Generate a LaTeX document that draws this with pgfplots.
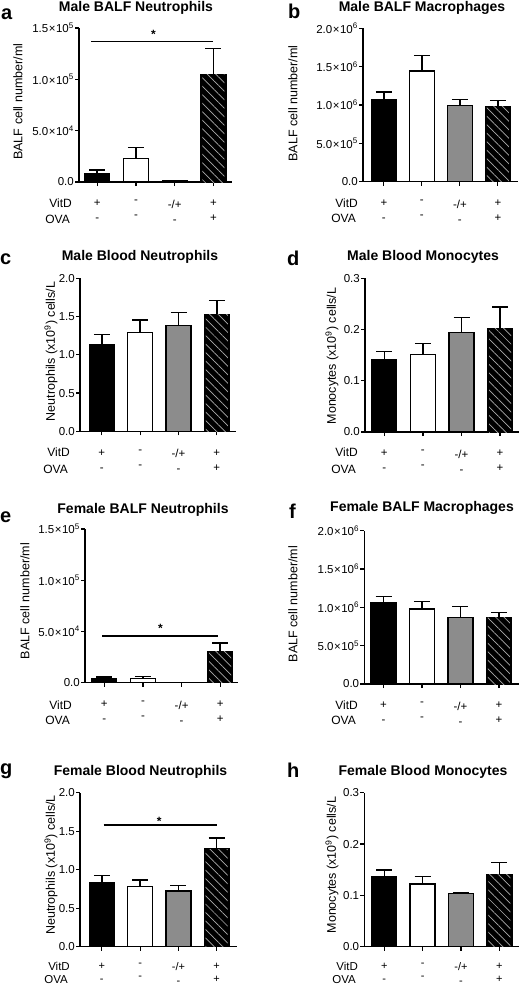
\documentclass[border=0pt]{standalone}
\usepackage{fontspec}
\setmainfont{Liberation Sans}
\usepackage{pgfplots}
\pgfplotsset{compat=1.18}
\usetikzlibrary{patterns.meta}
\definecolor{bargray}{RGB}{140,140,140}

\pgfplotsset{
  panel/.style={
    scale only axis, width=154pt, height=154pt,
    axis x line=bottom, axis y line=left,
    axis line style={-, line width=1.4pt},
    xmin=-0.52, xmax=3.5, ymin=0,
    xtick={0,1,2,3},
    xticklabels={{+\\-},{-\\-},{-/+\\-},{+\\+}},
    xticklabel style={align=center, font=\fontsize{11.5}{15}\selectfont, inner sep=0pt, anchor=north, yshift=-14pt},
    yticklabel style={font=\fontsize{11.5}{12}\selectfont, inner sep=1pt},
    tick align=outside, major tick length=4pt,
    every tick/.style={black, line width=1.2pt},
    scaled y ticks=false,
    clip=false,
  },
  lowpanel/.style={xticklabel style={font=\fontsize{11}{13.5}\selectfont, yshift=2pt}},
  bA/.style={ybar, bar width=25pt, fill=black, draw=black, line width=1.3pt},
  bB/.style={ybar, bar width=25pt, fill=white, draw=black, line width=1.3pt},
  bC/.style={ybar, bar width=25pt, fill=bargray, draw=black, line width=1.3pt},
  bD/.style={ybar, bar width=25pt, fill=black, draw=black, line width=1.3pt},
  hatch/.style={ybar, bar width=22pt, draw=none, pattern={Lines[angle=-45, distance=6pt, line width=0.7pt]}, pattern color=gray!65},
  eb/.style={error bars/.cd, y dir=plus, y explicit, error bar style={line width=1.5pt, black, solid}, error mark options={rotate=90, mark size=8pt, line width=1.5pt, black}},
}
\newcommand{\tl}{\fontsize{12.5}{14}\selectfont}
\newcommand{\rl}{\fontsize{12}{14}\selectfont}
\newcommand{\rls}{\fontsize{11.5}{13}\selectfont}
\newcommand{\ttl}{\fontsize{14}{16}\selectfont\bfseries}
\newcommand{\lett}{\fontsize{20}{22}\selectfont\bfseries}
\newcommand{\tx}{\kern0.5pt×\kern0.5pt}

\begin{document}
\begin{tikzpicture}
\useasboundingbox (0pt,0pt) rectangle (519pt,-987pt);

% ---------- titles and letters ----------
\node[anchor=base west, inner sep=0, font=\lett] at (1pt,-20pt) {a};
\node[anchor=base west, inner sep=0, font=\lett] at (288pt,-18.3pt) {b};
\node[anchor=base west, inner sep=0, font=\lett] at (0pt,-264pt) {c};
\node[anchor=base west, inner sep=0, font=\lett] at (287pt,-265.7pt) {d};
\node[anchor=base west, inner sep=0, font=\lett] at (0pt,-522pt) {e};
\node[anchor=base west, inner sep=0, font=\lett] at (289pt,-518pt) {f};
\node[anchor=base west, inner sep=0, font=\lett] at (0pt,-774pt) {g};
\node[anchor=base west, inner sep=0, font=\lett] at (287pt,-777pt) {h};

\node[anchor=base, inner sep=0, font=\ttl] at (136pt,-12pt) {Male BALF Neutrophils};
\node[anchor=base, inner sep=0, font=\ttl] at (422pt,-11.5pt) {Male BALF Macrophages};
\node[anchor=base, inner sep=0, font=\ttl] at (140pt,-260pt) {Male Blood Neutrophils};
\node[anchor=base, inner sep=0, font=\ttl] at (423pt,-260.5pt) {Male Blood Monocytes};
\node[anchor=base, inner sep=0, font=\ttl] at (143pt,-513pt) {Female BALF Neutrophils};
\node[anchor=base, inner sep=0, font=\ttl] at (422pt,-511pt) {Female BALF Macrophages};
\node[anchor=base, inner sep=0, font=\ttl] at (140.5pt,-775pt) {Female Blood Neutrophils};
\node[anchor=base, inner sep=0, font=\ttl] at (423pt,-775pt) {Female Blood Monocytes};

% ---------- y labels ----------
\node[rotate=90, font=\tl, inner sep=0] at (18pt,-101.7pt) {BALF cell number/ml};
\node[rotate=90, font=\tl, inner sep=0] at (293pt,-103.6pt) {BALF cell number/ml};
\node[rotate=90, font=\tl, inner sep=0] at (51pt,-351.5pt) {Neutrophils (x10\textsuperscript{9}) cells/L};
\node[rotate=90, font=\tl, inner sep=0] at (332pt,-356pt) {Monocytes (x10\textsuperscript{9}) cells/L};
\node[rotate=90, font=\tl, inner sep=0] at (25pt,-601pt) {BALF cell number/ml};
\node[rotate=90, font=\tl, inner sep=0] at (293pt,-604pt) {BALF cell number/ml};
\node[rotate=90, font=\tl, inner sep=0] at (51pt,-865pt) {Neutrophils (x10\textsuperscript{9}) cells/L};
\node[rotate=90, font=\tl, inner sep=0] at (332pt,-865pt) {Monocytes (x10\textsuperscript{9}) cells/L};

% ---------- row labels ----------
\foreach \xx/\yy in {72/203, 358/202.7, 70/452, 358/452, 72/705, 358/705}{
  \node[anchor=east, font=\rl, inner sep=0] at (\xx pt,-\yy pt) {VitD};
}
\foreach \xx/\yy in {70/219, 356/218, 68/469, 356/469, 70/720, 356/720}{
  \node[anchor=east, font=\rl, inner sep=0] at (\xx pt,-\yy pt) {OVA};
}
\foreach \xx/\yy in {70/966.5, 358/966.5}{
  \node[anchor=east, font=\rls, inner sep=0] at (\xx pt,-\yy pt) {VitD};
}
\foreach \xx/\yy in {68/979.5, 356/979.5}{
  \node[anchor=east, font=\rls, inner sep=0] at (\xx pt,-\yy pt) {OVA};
}

% ---------- panel a ----------
\begin{axis}[panel, at={(79pt,-182pt)}, anchor=south west, width=153pt, xmin=-0.47, xmax=3.48,
  ymax=150000, ytick={0,50000,100000,150000},
  yticklabels={0.0, 5.0\tx10\textsuperscript{4}, 1.0\tx10\textsuperscript{5}, 1.5\tx10\textsuperscript{5}}]
\addplot[bA, eb] coordinates {(0,8500) +- (0,3200)};
\addplot[bB, eb] coordinates {(1,22700) +- (0,10700)};
\addplot[bC] coordinates {(2,1000)};
\addplot[bD, eb] coordinates {(3,104500) +- (0,25300)};
\addplot[hatch] coordinates {(3,104500)};
\draw[line width=1.4pt] (axis cs:-0.15,137000) -- (axis cs:3,137000);
\node[anchor=base, font=\fontsize{12}{12}\selectfont\bfseries, inner sep=0, yshift=3pt] at (axis cs:1.45,137000) {*};
\end{axis}

% ---------- panel b ----------
\begin{axis}[panel, at={(363pt,-181.7pt)}, anchor=south west, width=155pt, height=153.4pt, xmin=-0.55, xmax=3.53,
  ymax=2000000, ytick={0,500000,1000000,1500000,2000000},
  yticklabels={0.0, 5.0\tx10\textsuperscript{5}, 1.0\tx10\textsuperscript{6}, 1.5\tx10\textsuperscript{6}, 2.0\tx10\textsuperscript{6}}]
\addplot[bA, eb] coordinates {(0,1065000) +- (0,105000)};
\addplot[bB, eb] coordinates {(1,1443000) +- (0,200000)};
\addplot[bC, eb] coordinates {(2,996000) +- (0,78000)};
\addplot[bD, eb] coordinates {(3,978000) +- (0,78000)};
\addplot[hatch] coordinates {(3,978000)};
\end{axis}

% ---------- panel c ----------
\begin{axis}[panel, at={(80pt,-431.3pt)}, anchor=south west, width=156pt, height=153pt, xmin=-0.57, xmax=3.5,
  ymax=2, ytick={0,0.5,1,1.5,2},
  yticklabels={0.0, 0.5, 1.0, 1.5, 2.0}]
\addplot[bA, eb] coordinates {(0,1.133) +- (0,0.135)};
\addplot[bB, eb] coordinates {(1,1.29) +- (0,0.165)};
\addplot[bC, eb] coordinates {(2,1.381) +- (0,0.175)};
\addplot[bD, eb] coordinates {(3,1.521) +- (0,0.191)};
\addplot[hatch] coordinates {(3,1.521)};
\end{axis}

% ---------- panel d ----------
\begin{axis}[panel, at={(365pt,-432pt)}, anchor=south west, width=154pt, height=153.7pt, xmin=-0.5, xmax=3.49,
  ymax=0.3, ytick={0,0.1,0.2,0.3},
  yticklabels={0.0, 0.1, 0.2, 0.3}]
\addplot[bA, eb] coordinates {(0,0.142) +- (0,0.015)};
\addplot[bB, eb] coordinates {(1,0.1516) +- (0,0.021)};
\addplot[bC, eb] coordinates {(2,0.1946) +- (0,0.0286)};
\addplot[bD, eb] coordinates {(3,0.2017) +- (0,0.0423)};
\addplot[hatch] coordinates {(3,0.2017)};
\end{axis}

% ---------- panel e ----------
\begin{axis}[panel, at={(85pt,-682.5pt)}, anchor=south west, width=153pt, height=153.5pt, xmin=-0.5, xmax=3.46,
  ymax=150000, ytick={0,50000,100000,150000},
  yticklabels={0.0, 5.0\tx10\textsuperscript{4}, 1.0\tx10\textsuperscript{5}, 1.5\tx10\textsuperscript{5}}]
\addplot[bA, eb] coordinates {(0,4000) +- (0,1200)};
\addplot[bB, eb] coordinates {(1,3600) +- (0,2300)};
\addplot[bC] coordinates {(2,0)};
\addplot[bD, eb] coordinates {(3,30500) +- (0,7900)};
\addplot[hatch] coordinates {(3,30500)};
\draw[line width=1.4pt] (axis cs:-0.05,45600) -- (axis cs:2.95,45600);
\node[anchor=base, font=\fontsize{12}{12}\selectfont\bfseries, inner sep=0, yshift=3pt] at (axis cs:1.45,45600) {*};
\end{axis}

% ---------- panel f ----------
\begin{axis}[panel, at={(364.3pt,-684pt)}, anchor=south west, width=155pt, height=153.3pt, xmin=-0.5, xmax=3.53,
  ymax=2000000, ytick={0,500000,1000000,1500000,2000000},
  yticklabels={0.0, 5.0\tx10\textsuperscript{5}, 1.0\tx10\textsuperscript{6}, 1.5\tx10\textsuperscript{6}, 2.0\tx10\textsuperscript{6}}]
\addplot[bA, eb] coordinates {(0,1065000) +- (0,78000)};
\addplot[bB, eb] coordinates {(1,978000) +- (0,96000)};
\addplot[bC, eb] coordinates {(2,870000) +- (0,139000)};
\addplot[bD, eb] coordinates {(3,865000) +- (0,70000)};
\addplot[hatch] coordinates {(3,865000)};
\end{axis}

% ---------- panel g ----------
\begin{axis}[panel, lowpanel, at={(80pt,-946.7pt)}, anchor=south west, width=157pt, height=154pt, xmin=-0.57, xmax=3.53,
  ymax=2, ytick={0,0.5,1,1.5,2},
  yticklabels={0.0, 0.5, 1.0, 1.5, 2.0}]
\addplot[bA, eb] coordinates {(0,0.835) +- (0,0.087)};
\addplot[bB, eb] coordinates {(1,0.779) +- (0,0.087)};
\addplot[bC, eb] coordinates {(2,0.723) +- (0,0.069)};
\addplot[bD, eb] coordinates {(3,1.268) +- (0,0.143)};
\addplot[hatch] coordinates {(3,1.268)};
\draw[line width=1.4pt] (axis cs:0.05,1.58) -- (axis cs:3,1.58);
\node[anchor=base, font=\fontsize{12}{12}\selectfont\bfseries, inner sep=0, yshift=0pt] at (axis cs:1.5,1.58) {*};
\end{axis}

% ---------- panel h ----------
\begin{axis}[panel, lowpanel, at={(364.3pt,-946.7pt)}, anchor=south west, width=155pt, height=154pt, xmin=-0.52, xmax=3.52,
  ymax=0.3, ytick={0,0.1,0.2,0.3},
  yticklabels={0.0, 0.1, 0.2, 0.3}]
\addplot[bA, eb] coordinates {(0,0.1364) +- (0,0.0126)};
\addplot[bB, eb] coordinates {(1,0.122) +- (0,0.0144)};
\addplot[bC, eb] coordinates {(2,0.1032) +- (0,0.0013)};
\addplot[bD, eb] coordinates {(3,0.141) +- (0,0.023)};
\addplot[hatch] coordinates {(3,0.141)};
\end{axis}
\end{tikzpicture}
\end{document}
